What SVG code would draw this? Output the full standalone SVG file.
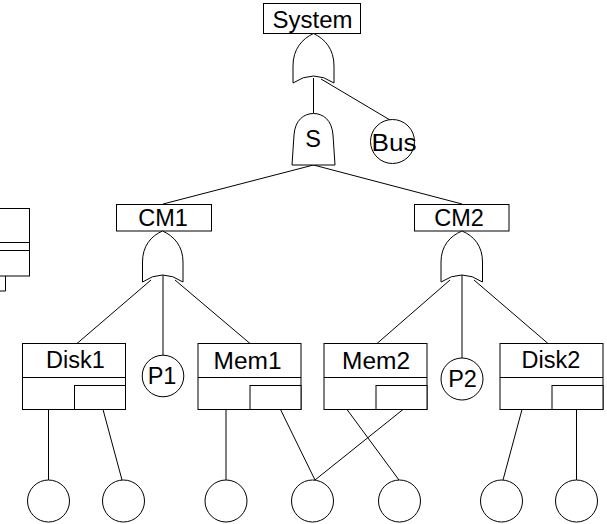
<svg xmlns="http://www.w3.org/2000/svg" width="607" height="524" viewBox="0 0 607 524">
  <style>
    .ln { fill: none; stroke: #000; stroke-width: 1; }
    .shape { fill: #fff; stroke: #000; stroke-width: 1; }
    .lbl { font-family: "Liberation Sans", Arial, sans-serif; font-size: 23.5px; fill: #000; text-anchor: middle; }
  </style>
  <defs>
    <!-- component box: title row, lower row, inner sub-box at bottom right -->
    <g id="compBox">
      <rect class="shape" x="0" y="0" width="103" height="66"/>
      <line class="ln" x1="0" y1="34" x2="103" y2="34"/>
      <rect class="shape" x="52" y="42" width="51" height="24"/>
    </g>
  </defs>
  <rect width="607" height="524" fill="#fff"/>

  <!-- connectors -->
  <g id="connectors" class="ln">
    <line x1="313.5" y1="78" x2="313.5" y2="113"/>
    <line x1="321" y1="79" x2="390" y2="120"/>
    <line x1="313.5" y1="165" x2="163" y2="204"/>
    <line x1="313.5" y1="165" x2="462" y2="204"/>
    <line x1="151" y1="280" x2="77" y2="343.5"/>
    <line x1="163" y1="275" x2="163" y2="355"/>
    <line x1="175" y1="280" x2="250" y2="343.5"/>
    <line x1="450" y1="280" x2="377" y2="343.5"/>
    <line x1="462" y1="275" x2="462" y2="358"/>
    <line x1="474" y1="280" x2="548" y2="343.5"/>
    <line x1="48.5" y1="409.5" x2="48.5" y2="480"/>
    <line x1="103" y1="409.5" x2="122" y2="480"/>
    <line x1="226" y1="409.5" x2="226" y2="480"/>
    <line x1="280.5" y1="409.5" x2="315" y2="480"/>
    <line x1="403" y1="409.5" x2="315" y2="480"/>
    <line x1="347" y1="409.5" x2="399" y2="480"/>
    <line x1="522" y1="409.5" x2="503" y2="480"/>
    <line x1="576.5" y1="409.5" x2="576.5" y2="480"/>
    <polyline points="0,291 5.5,291 5.5,276"/>
  </g>

  <!-- top event -->
  <g id="system">
    <rect class="shape" x="263.5" y="3.5" width="97" height="30"/>
    <text class="lbl" x="312.5" y="27.5" textLength="80" lengthAdjust="spacingAndGlyphs">System</text>
  </g>
  <g id="gate-system">
    <path class="shape" d="M293,83 L293,66 C293,49 302,39 313.5,33.5 C325,39 334,49 334,66 L334,83 Q313.5,69 293,83 Z"/>
  </g>
  <g id="gate-s">
    <path class="shape" d="M292,165 L294,135 C295,120 304,113.5 313.5,113.5 C323,113.5 332,120 333,135 L335,165 Z"/>
    <text class="lbl" x="313" y="146.5">S</text>
  </g>
  <g id="bus">
    <circle class="shape" cx="392.5" cy="141.5" r="22"/>
    <text class="lbl" x="394" y="150.5" textLength="45" lengthAdjust="spacingAndGlyphs">Bus</text>
  </g>

  <!-- CM1 branch -->
  <g id="cm1">
    <rect class="shape" x="116.5" y="204.5" width="95" height="26.5"/>
    <text class="lbl" x="163" y="226">CM1</text>
  </g>
  <g id="gate-cm1">
    <path class="shape" d="M142.5,282 L142.5,262 C142.5,246 151,236 162.5,231 C174,236 183,246 183,262 L183,282 Q162.5,268 142.5,282 Z"/>
  </g>
  <g id="disk1">
    <use href="#compBox" x="22.5" y="343.5"/>
    <text class="lbl" x="75.5" y="367.5">Disk1</text>
  </g>
  <g id="p1">
    <circle class="shape" cx="163" cy="376" r="20.8"/>
    <text class="lbl" x="162" y="384">P1</text>
  </g>
  <g id="mem1">
    <use href="#compBox" x="198" y="343.5"/>
    <text class="lbl" x="247.5" y="368.5" textLength="68" lengthAdjust="spacingAndGlyphs">Mem1</text>
  </g>

  <!-- CM2 branch -->
  <g id="cm2">
    <rect class="shape" x="414.5" y="204.5" width="94.5" height="26.5"/>
    <text class="lbl" x="459" y="226">CM2</text>
  </g>
  <g id="gate-cm2">
    <path class="shape" d="M441,282 L441,262 C441,246 450,236 462,231 C474,236 482.5,246 482.5,262 L482.5,282 Q462,268 441,282 Z"/>
  </g>
  <g id="mem2">
    <use href="#compBox" x="324" y="343.5"/>
    <text class="lbl" x="376" y="368.5" textLength="68" lengthAdjust="spacingAndGlyphs">Mem2</text>
  </g>
  <g id="p2">
    <circle class="shape" cx="462" cy="379" r="21"/>
    <text class="lbl" x="462.5" y="387">P2</text>
  </g>
  <g id="disk2">
    <use href="#compBox" x="500" y="343.5"/>
    <text class="lbl" x="551" y="368">Disk2</text>
  </g>

  <!-- component box cut off at the left edge -->
  <g id="left-box">
    <rect class="shape" x="-1" y="208.5" width="30.5" height="67.5"/>
    <line class="ln" x1="-1" y1="242.5" x2="29.5" y2="242.5"/>
    <line class="ln" x1="-1" y1="250.5" x2="29.5" y2="250.5"/>
  </g>

  <!-- basic events -->
  <g id="be1"><circle class="shape" cx="48.5" cy="501" r="21"/></g>
  <g id="be2"><circle class="shape" cx="123.5" cy="501" r="21"/></g>
  <g id="be3"><circle class="shape" cx="226" cy="501" r="21"/></g>
  <g id="be4"><circle class="shape" cx="312.5" cy="501" r="21"/></g>
  <g id="be5"><circle class="shape" cx="399.5" cy="501" r="21"/></g>
  <g id="be6"><circle class="shape" cx="501.5" cy="501" r="21"/></g>
  <g id="be7"><circle class="shape" cx="576.5" cy="501" r="21"/></g>
</svg>
